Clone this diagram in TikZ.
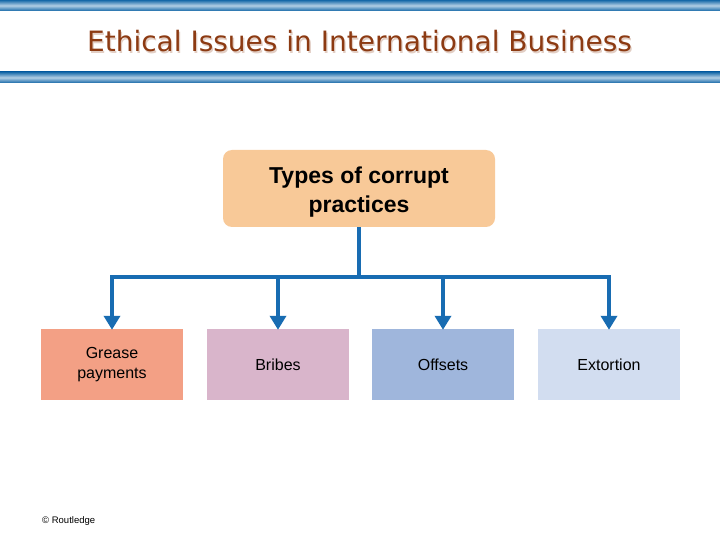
\documentclass[tikz,border=0pt]{standalone}
\usepackage{fontspec}
\setmainfont{Liberation Sans}
\newfontfamily\titlefont{DejaVu Sans}
\usetikzlibrary{arrows.meta}
\definecolor{barblue}{RGB}{22,104,168}
\definecolor{barlight}{RGB}{178,206,228}
\definecolor{titlebrown}{RGB}{140,58,18}
\definecolor{linkblue}{RGB}{24,108,178}
\definecolor{peach}{RGB}{248,201,152}
\definecolor{salmon}{RGB}{243,160,133}
\definecolor{mauve}{RGB}{217,181,203}
\definecolor{midblue}{RGB}{159,182,220}
\definecolor{paleblue}{RGB}{210,221,240}
\tikzset{
  leaf/.style={minimum width=142pt, minimum height=71pt, inner sep=0pt, align=center, font=\fontsize{16}{20}\selectfont},
  link/.style={draw=linkblue, line width=3.6pt, line join=miter},
  linkarrow/.style={link, -{Triangle[width=16pt,length=14pt]}, shorten >=-1pt},
}
\begin{document}
\begin{tikzpicture}[x=1pt,y=-1pt]
\useasboundingbox (0,0) rectangle (720,540);
\fill[white] (0,0) rectangle (720,540);
% bars
\shade[top color=barblue, bottom color=barblue, middle color=barlight] (0,0) rectangle (720,11);
\shade[top color=barblue, bottom color=barblue, middle color=barlight] (0,72) rectangle (720,83);
% title
\node[text=titlebrown!25, font=\titlefont\fontsize{28}{32}\selectfont] at (360.8,42.8) {Ethical Issues in International Business};
\node[text=titlebrown, font=\titlefont\fontsize{28}{32}\selectfont] (title) at (359.5,41.5) {Ethical Issues in International Business};
% top box
\node[fill=peach, rounded corners=9pt, minimum width=272pt, minimum height=77pt, inner sep=0pt, font=\bfseries\fontsize{23}{29}\selectfont] (top) at (359,188.5) {\raisebox{-3.5pt}[\height][\depth]{\begin{tabular}{@{}c@{}}Types of corrupt\\practices\end{tabular}}};
% leaves
\node[leaf, fill=salmon] (b1) at (112,364.5) {Grease\\payments};
\node[leaf, fill=mauve] (b2) at (278,364.5) {Bribes};
\node[leaf, fill=midblue] (b3) at (443,364.5) {Offsets};
\node[leaf, fill=paleblue] (b4) at (609,364.5) {Extortion};
% connectors
\coordinate (j) at (359,277);
\draw[link] (top.south) -- (j);
\draw[linkarrow] (j) -| (b1.north);
\draw[linkarrow] (j) -| (b2.north);
\draw[linkarrow] (j) -| (b3.north);
\draw[linkarrow] (j) -| (b4.north);
% copyright
\node[anchor=west, inner sep=0pt, font=\fontsize{9.5}{11}\selectfont] (copy) at (42,521) {\textcopyright{} Routledge};
\end{tikzpicture}
\end{document}
